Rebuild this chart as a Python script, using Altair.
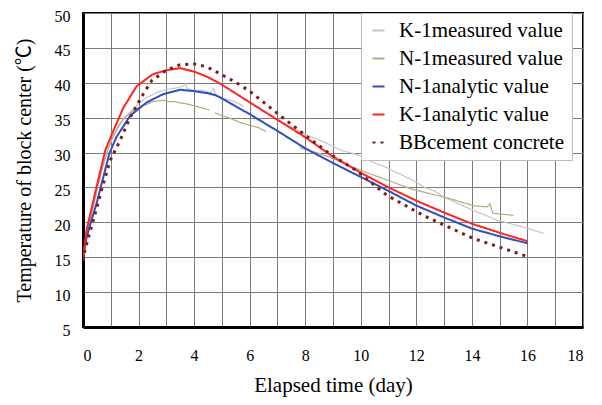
import altair as alt
import pandas as pd

# ---- data ----
series_names = ["K-1measured value", "N-1measured value", "N-1analytic value",
                "K-1analytic value", "BBcement concrete"]

k1m_x = [0, 0.1, 0.3, 0.5, 0.7, 0.9, 1.1, 1.3, 1.5, 1.7, 1.9, 2.1, 2.3, 2.5, 2.7, 2.9,
         3.1, 3.3, 3.5, 3.6, 3.7, 3.75, 3.9, 4.1, 4.3, 4.5, 4.6, 4.7, 4.8, 5.0, 5.2,
         5.4, 5.6, 5.8, None, 7.0, 7.5, 8.0, 8.5, 8.9, 9.3, 9.7, 10.0, 10.5, 10.9, 11.3,
         11.9, 12.3, 12.7, 13.0, 13.5, 14.05, 14.5, 14.9, 15.4, 15.85, 16.2, 16.6]
k1m_y = [15.0, 17.5, 21.5, 25.0, 28.0, 30.5, 32.3, 33.8, 35.0, 35.8, 36.6, 37.3, 37.9, 38.3, 38.7, 38.9,
         39.1, 39.2, 39.4, 39.5, 39.9, 39.2, 39.0, 38.9, 38.9, 38.7, 38.6, 39.2, 38.0, 37.8, 37.6,
         37.4, 37.0, 36.6, None, 34.6, 33.7, 32.6, 31.8, 31.1, 30.3, 29.9, 29.5, 28.5, 27.9, 27.1,
         26.0, 25.0, 24.4, 23.6, 22.7, 21.7, 21.0, 20.3, 19.8, 19.3, 18.9, 18.4]

n1m_x = [0, 0.1, 0.3, 0.5, 0.7, 0.9, 1.1, 1.3, 1.5, 1.7, 1.9, 2.1, 2.3, 2.5, 2.7, 2.9,
         3.1, 3.3, 3.5, 3.7, 3.9, 4.1, 4.3, 4.55, None, 4.75, 5.0, 5.3, 5.65, 6.0, 6.3,
         6.6, None, 7.8, 8.4, 8.9, 9.6, 10.3, 11.2, 11.8, 12.5, 13.2, 14.05, 14.55, 14.65, 14.75,
         15.0, 15.5]
n1m_y = [15.0, 17.0, 21.0, 24.5, 27.8, 30.5, 32.5, 34.0, 35.0, 35.7, 36.2, 36.7, 36.9, 37.3, 37.4, 37.5,
         37.3, 37.3, 37.1, 37.0, 36.8, 36.6, 36.4, 36.1, None, 35.7, 35.3, 34.9, 34.3, 33.9, 33.6,
         33.0, None, 30.7, 30.0, 29.3, 28.1, 27.0, 25.7, 24.8, 24.1, 23.4, 22.4, 22.2, 22.7, 21.3,
         21.2, 21.0]

n1a_x = [0, 0.13, 0.5, 0.95, 1.2, 1.7, 2.3, 2.9, 3.5, 4.0, 4.5, 4.8, 6.0, 7.0, 8.0, 9.0,
         10.0, 11.0, 12.0, 13.0, 14.0, 15.0, 16.0]
n1a_y = [14.8, 17.9, 22.9, 29.9, 32.2, 35.3, 37.2, 38.4, 39.0, 38.8, 38.5, 38.2, 35.5, 33.1, 30.6, 28.5,
         26.5, 24.5, 22.4, 20.7, 19.1, 18.0, 17.0]

k1a_x = [0, 0.13, 0.43, 0.8, 1.09, 1.45, 1.93, 2.5, 3.0, 3.5, 4.0, 4.5, 4.93, 6.0, 7.0, 8.0,
         9.0, 10.0, 11.0, 12.0, 13.0, 14.0, 15.0, 16.0]
k1a_y = [14.8, 18.9, 24.1, 30.3, 33.1, 36.4, 39.5, 41.2, 41.8, 42.1, 41.6, 40.8, 39.9, 37.2, 34.7, 32.2,
         29.4, 27.1, 25.0, 23.1, 21.4, 19.8, 18.5, 17.3]

bb_x = [0, 0.07, 0.37, 0.73, 0.97, 1.33, 1.69, 2.17, 2.47, 3.0, 3.5, 4.0, 4.45, 4.93, 5.53, 6.0,
        6.97, 7.93, 8.89, 9.85, 10.93, 12.25, 13.0, 14.05, 15.85, 16.0]
bb_y = [14.5, 16.0, 20.3, 25.5, 28.8, 31.7, 35.0, 38.4, 40.3, 41.8, 42.6, 42.7, 42.3, 41.3, 40.0, 38.8,
        35.7, 32.7, 29.8, 27.4, 23.9, 21.0, 19.6, 17.7, 15.3, 15.1]

x_ticks = list(range(0, 19))
y_ticks = list(range(5, 51, 5))

# ---- styling ----
colors = ["#c6c6c6", "#b4ab82", "#2f4fbf", "#ff2424", "#7a1e1e"]
dashes = [[1, 0], [1, 0], [1, 0], [1, 0], [3, 5]]
widths = [1.2, 1.2, 2, 2, 3]

all_series = [(k1m_x, k1m_y), (n1m_x, n1m_y), (n1a_x, n1a_y), (k1a_x, k1a_y), (bb_x, bb_y)]
rows = []
for name, (xs, ys) in zip(series_names, all_series):
    seg = 0
    for x, y in zip(xs, ys):
        if x is None:
            seg += 1
            continue
        rows.append({"series": name, "seg": seg, "day": x, "temp": y})
df = pd.DataFrame(rows)

FONT = "'Liberation Serif', 'Noto Sans CJK JP', serif"

color_enc = alt.Color("series:N",
                      scale=alt.Scale(domain=series_names, range=colors),
                      legend=alt.Legend(
                          title=None, orient="none", legendX=278, legendY=0,
                          fillColor="white", strokeColor="#bdbdbd", padding=7,
                          symbolType="stroke", symbolSize=144, symbolStrokeWidth=2,
                          labelFont=FONT, labelFontSize=21, labelColor="black",
                          rowPadding=6, labelOffset=10, labelLimit=300))
dash_enc = alt.StrokeDash("series:N",
                          scale=alt.Scale(domain=series_names, range=dashes),
                          legend=alt.Legend(title=None))

x_enc = alt.X("day:Q", scale=alt.Scale(domain=[0, 18], nice=False),
              axis=alt.Axis(values=x_ticks,
                            labelExpr="datum.value % 2 === 0 ? datum.label : ''",
                            title="Elapsed time (day)", ticks=False,
                            labelPadding=20, titlePadding=11, titleFontSize=21))
y_enc = alt.Y("temp:Q", scale=alt.Scale(domain=[5, 50], nice=False),
              axis=alt.Axis(values=y_ticks, title="Temperature of block center (℃)",
                            ticks=False, labelPadding=13, titlePadding=20,
                            labelOffset=3))

layers = []
for name, w in zip(series_names, widths):
    layers.append(
        alt.Chart(df).transform_filter(alt.datum.series == name)
        .mark_line(strokeWidth=w, clip=True)
        .encode(x=x_enc, y=y_enc, color=color_enc, strokeDash=dash_enc,
                detail="seg:N")
    )

chart = (
    alt.layer(*layers)
    .properties(width=500, height=314, autosize="none",
                padding={"left": 75, "top": 5, "right": 11, "bottom": 72})
    .configure_view(stroke="black", strokeWidth=2)
    .configure_axis(grid=True, gridColor="#7a7a7a", gridWidth=1,
                    domainColor="black", domainWidth=3,
                    labelFont=FONT, labelFontSize=16, labelColor="black",
                    titleFont=FONT, titleFontSize=20, titleFontWeight="normal",
                    titleColor="black")
)

chart.save("out.html", embed_options={"renderer": "svg", "actions": False})
